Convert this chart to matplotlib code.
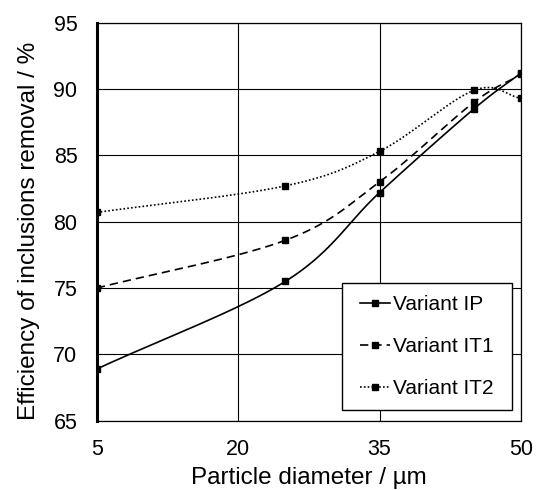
import numpy as np
import matplotlib.pyplot as plt
from matplotlib.patches import Rectangle

plt.rcParams['font.family'] = ['Liberation Sans', 'DejaVu Sans']

diameter = [5, 25, 35, 45, 50]
variant_ip = [68.9, 75.5, 82.2, 88.5, 91.2]
variant_it1 = [75.0, 78.6, 83.0, 89.0, 91.1]
variant_it2 = [80.7, 82.7, 85.3, 89.9, 89.3]

labels = ['Variant IP', 'Variant IT1', 'Variant IT2']
styles = ['-', (0, (5, 3)), (0, (1, 1.3))]


def smooth_line(x, y, n=40, tension=0.5):
    # excel-like smoothing: cardinal spline through the points
    x = np.asarray(x, float)
    y = np.asarray(y, float)
    px = np.concatenate([[2 * x[0] - x[1]], x, [2 * x[-1] - x[-2]]])
    py = np.concatenate([[2 * y[0] - y[1]], y, [2 * y[-1] - y[-2]]])
    xs, ys = [], []
    t = np.linspace(0, 1, n)
    for i in range(1, len(px) - 2):
        m1x = tension * (px[i + 1] - px[i - 1])
        m1y = tension * (py[i + 1] - py[i - 1])
        m2x = tension * (px[i + 2] - px[i])
        m2y = tension * (py[i + 2] - py[i])
        h00 = 2 * t**3 - 3 * t**2 + 1
        h10 = t**3 - 2 * t**2 + t
        h01 = -2 * t**3 + 3 * t**2
        h11 = t**3 - t**2
        xs.append(h00 * px[i] + h10 * m1x + h01 * px[i + 1] + h11 * m2x)
        ys.append(h00 * py[i] + h10 * m1y + h01 * py[i + 1] + h11 * m2y)
    return np.concatenate(xs), np.concatenate(ys)


fig = plt.figure(figsize=(5.41, 4.9), dpi=100)
ax = fig.add_axes([0.179, 0.1414, 0.784, 0.8123])

for vals, lab, ls in zip([variant_ip, variant_it1, variant_it2], labels, styles):
    sx, sy = smooth_line(diameter, vals)
    ax.plot(sx, sy, color='black', linestyle=ls, linewidth=1.2, zorder=3)
    ax.plot(diameter, vals, linestyle='none', marker='s', markersize=4.5, color='black', zorder=4)
    ax.plot([], [], color='black', linestyle=ls, linewidth=1.2, marker='s', markersize=4.5, label=lab)

ax.set_xlim(5, 50)
ax.set_ylim(65, 95)
ax.set_xticks([5, 20, 35, 50])
ax.set_yticks(range(65, 96, 5))
ax.grid(True, color='black', linewidth=0.8, zorder=0)
ax.tick_params(axis='y', length=0, labelsize=15.5, pad=14)
ax.tick_params(axis='x', length=0, labelsize=15.5, pad=13.5)
for side in ['top', 'right', 'bottom']:
    ax.spines[side].set_linewidth(0.9)
ax.spines['left'].set_linewidth(2.2)

ax.set_xlabel('Particle diameter / µm', fontsize=17.5)
ax.xaxis.set_label_coords(0.5, -0.117)
ax.set_ylabel('Efficiency of inclusions removal / %', fontsize=17.5)
ax.yaxis.set_label_coords(-0.134, 0.478)

# legend box drawn separately so it matches the original size
ax.add_patch(Rectangle((0.577, 0.027), 0.401, 0.318, transform=ax.transAxes, facecolor='white',
                       edgecolor='black', linewidth=1.0, zorder=4.5))
leg = ax.legend(loc='center left', bbox_to_anchor=(0.62, 0.186), fontsize=15, frameon=False,
                handlelength=1.45, handletextpad=0.15, labelspacing=1.1, borderpad=0, borderaxespad=0)
leg.set_zorder(6)

fig.savefig('out.png', dpi=100)
